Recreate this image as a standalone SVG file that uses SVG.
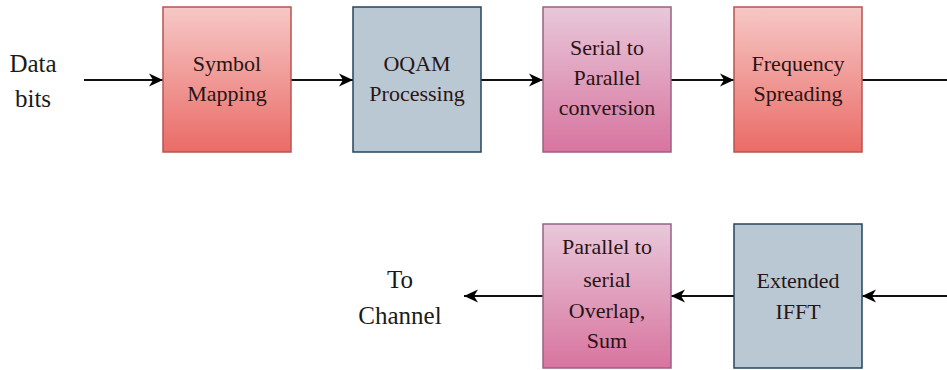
<svg xmlns="http://www.w3.org/2000/svg" width="947" height="370" viewBox="0 0 947 370">
<defs>
<linearGradient id="gRed" x1="0" y1="0" x2="0" y2="1"><stop offset="0" stop-color="#f6c8c6"/><stop offset="1" stop-color="#ea6b66"/></linearGradient>
<linearGradient id="gPink" x1="0" y1="0" x2="0" y2="1"><stop offset="0" stop-color="#e8c8da"/><stop offset="1" stop-color="#d8749f"/></linearGradient>
<marker id="arr" markerUnits="userSpaceOnUse" markerWidth="16" markerHeight="14" refX="14" refY="7" orient="auto">
<path d="M0,0.5 L14,7 L0,13.5 L4,7 z" fill="#000"/>
</marker>
<style>
.red{fill:url(#gRed);stroke:#b85450;stroke-width:1.5}
.blue{fill:#bac8d3;stroke:#23445d;stroke-width:1.5}
.pink{fill:url(#gPink);stroke:#996185;stroke-width:1.5}
.c{stroke:#111;stroke-width:2;fill:none}
text{font-family:'Liberation Serif','DejaVu Serif',serif;text-anchor:middle}
.lbl{font-size:25px;fill:#1a1a1a}
.t{font-size:22px;fill:#2a1414}
</style>
</defs>
<rect width="947" height="370" fill="#fff"/>
<g id="connectors">
<line class="c" x1="84" y1="80" x2="163" y2="80" marker-end="url(#arr)"/>
<line class="c" x1="291" y1="80" x2="353" y2="80" marker-end="url(#arr)"/>
<line class="c" x1="481" y1="80" x2="543" y2="80" marker-end="url(#arr)"/>
<line class="c" x1="671" y1="80" x2="734" y2="80" marker-end="url(#arr)"/>
<line class="c" x1="862" y1="80" x2="947" y2="80"/>
<line class="c" x1="947" y1="296" x2="862" y2="296" marker-end="url(#arr)"/>
<line class="c" x1="734" y1="296" x2="671" y2="296" marker-end="url(#arr)"/>
<line class="c" x1="543" y1="296" x2="464" y2="296" marker-end="url(#arr)"/>
</g>
<g id="data-bits"><text class="lbl" x="33" y="72">Data</text><text class="lbl" x="33" y="107">bits</text></g>
<g id="to-channel"><text class="lbl" x="400" y="288">To</text><text class="lbl" x="400" y="324">Channel</text></g>
<g id="symbol-mapping"><rect class="red" x="163" y="7" width="128" height="145"/><text class="t" x="227" y="71">Symbol</text><text class="t" x="227" y="101">Mapping</text></g>
<g id="oqam"><rect class="blue" x="353" y="7" width="128" height="145"/><text class="t" x="417" y="71">OQAM</text><text class="t" x="417" y="101">Processing</text></g>
<g id="s2p"><rect class="pink" x="543" y="7" width="128" height="145"/><text class="t" x="607" y="55">Serial to</text><text class="t" x="607" y="85">Parallel</text><text class="t" x="607" y="115">conversion</text></g>
<g id="freq"><rect class="red" x="734" y="7" width="128" height="145"/><text class="t" x="798" y="71">Frequency</text><text class="t" x="798" y="101">Spreading</text></g>
<g id="ifft"><rect class="blue" x="734" y="224" width="128" height="144"/><text class="t" x="798" y="288">Extended</text><text class="t" x="798" y="319">IFFT</text></g>
<g id="p2s"><rect class="pink" x="543" y="224" width="128" height="144"/><text class="t" x="607" y="254">Parallel to</text><text class="t" x="607" y="287">serial</text><text class="t" x="607" y="318">Overlap,</text><text class="t" x="607" y="348">Sum</text></g>
</svg>
